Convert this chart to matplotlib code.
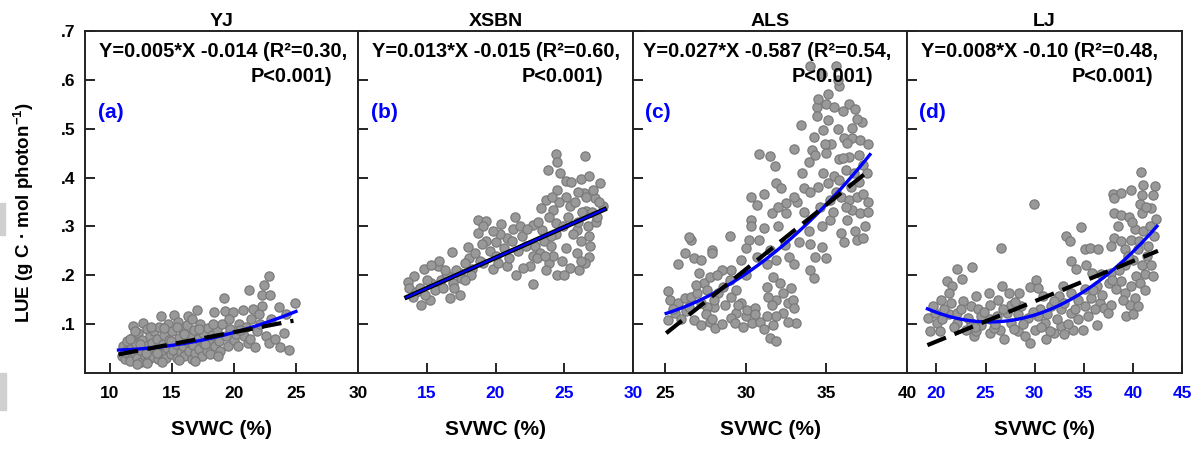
import numpy as np
import matplotlib
matplotlib.use('Agg')
from matplotlib import pyplot as plt
from matplotlib.patches import Rectangle

plt.rcParams['font.family'] = ['Liberation Sans', 'DejaVu Sans']
plt.rcParams['mathtext.fontset'] = 'custom'
plt.rcParams['mathtext.rm'] = 'Liberation Sans'
plt.rcParams['mathtext.bf'] = 'Liberation Sans:bold'

NARROW = ['Liberation Sans Narrow', 'Liberation Sans', 'DejaVu Sans']

sites = ['YJ', 'XSBN', 'ALS', 'LJ']
tags = ['(a)', '(b)', '(c)', '(d)']
eq_line1 = ['Y=0.005*X -0.014 (R²=0.30,', 'Y=0.013*X -0.015 (R²=0.60,',
            'Y=0.027*X -0.587 (R²=0.54,', 'Y=0.008*X -0.10 (R²=0.48,']
eq_line2 = ['P<0.001)'] * 4

x_limits = [(8, 30), (10, 30), (23, 40), (17, 45)]
x_ticks = [[10, 15, 20, 25, 30], [15, 20, 25, 30], [25, 30, 35, 40], [20, 25, 30, 35, 40, 45]]
y_ticks = [0.1, 0.2, 0.3, 0.4, 0.5, 0.6, 0.7]
y_ticklabels = ['.1', '.2', '.3', '.4', '.5', '.6', '.7']
tick_colors = ['black', 'blue', 'black', 'blue']

# SVWC (%), LUE pairs
yj_points = [
    (11.0, 0.035), (11.1, 0.055), (11.2, 0.028), (11.3, 0.045), (11.4, 0.065), (11.5, 0.038),
    (11.6, 0.025), (11.7, 0.050), (11.8, 0.072), (11.9, 0.097), (12.0, 0.040), (12.1, 0.060),
    (12.2, 0.030), (12.3, 0.082), (12.4, 0.048), (12.5, 0.022), (12.6, 0.068), (12.7, 0.103),
    (12.8, 0.035), (12.9, 0.055), (13.0, 0.090), (13.1, 0.027), (13.2, 0.075), (13.3, 0.045),
    (13.4, 0.062), (13.5, 0.033), (13.6, 0.085), (13.7, 0.050), (13.8, 0.070), (13.9, 0.028),
    (14.0, 0.095), (14.1, 0.117), (14.2, 0.040), (14.3, 0.060), (14.4, 0.078), (14.5, 0.030),
    (14.6, 0.052), (14.7, 0.100), (14.8, 0.068), (14.9, 0.038), (15.0, 0.085), (15.1, 0.048),
    (15.2, 0.118), (15.3, 0.060), (15.4, 0.030), (15.5, 0.105), (15.6, 0.072), (15.7, 0.042),
    (15.8, 0.090), (15.9, 0.055), (16.0, 0.035), (16.1, 0.065), (16.2, 0.098), (16.3, 0.116),
    (16.4, 0.045), (16.5, 0.078), (16.6, 0.028), (16.7, 0.058), (16.8, 0.088), (16.9, 0.040),
    (17.0, 0.129), (17.1, 0.070), (17.2, 0.050), (17.3, 0.100), (17.4, 0.035), (17.5, 0.082),
    (17.6, 0.060), (17.8, 0.045), (17.9, 0.092), (18.0, 0.068), (18.1, 0.038), (18.2, 0.078),
    (18.4, 0.125), (18.5, 0.055), (18.6, 0.088), (18.8, 0.065), (18.9, 0.045), (19.0, 0.100),
    (19.2, 0.153), (19.3, 0.127), (19.4, 0.075), (19.5, 0.055), (19.7, 0.090), (19.9, 0.124),
    (20.0, 0.068), (20.2, 0.080), (20.4, 0.100), (20.7, 0.129), (20.8, 0.075), (21.0, 0.095),
    (21.1, 0.062), (21.2, 0.170), (21.4, 0.110), (21.5, 0.132), (21.7, 0.054), (21.9, 0.085),
    (22.1, 0.100), (22.3, 0.138), (22.3, 0.160), (22.45, 0.181), (22.6, 0.075), (22.8, 0.199),
    (22.8, 0.062), (22.9, 0.160), (23.0, 0.110), (23.3, 0.069), (23.6, 0.136), (23.7, 0.054),
    (24.0, 0.082), (24.2, 0.120), (24.4, 0.047), (24.9, 0.143), (11.2, 0.042), (11.6, 0.070),
    (12.0, 0.085), (12.4, 0.060), (12.9, 0.040), (13.3, 0.095), (13.8, 0.040), (14.4, 0.092),
    (14.9, 0.065), (15.4, 0.095), (16.0, 0.080), (16.6, 0.110), (17.2, 0.090), (17.7, 0.060),
    (18.3, 0.100), (18.7, 0.035), (19.6, 0.110), (20.5, 0.088), (21.3, 0.070), (22.0, 0.120),
    (20.3, 0.055), (12.2, 0.018), (13.0, 0.020), (14.2, 0.023), (16.9, 0.025), (15.6, 0.026),
]
xsbn_points = [
    (24.4, 0.448), (26.5, 0.444), (24.5, 0.431), (23.8, 0.416), (24.7, 0.410), (25.1, 0.392),
    (26.2, 0.397), (26.8, 0.404), (27.6, 0.388), (24.5, 0.375), (23.7, 0.354), (25.1, 0.361),
    (26.4, 0.368), (27.2, 0.359), (27.8, 0.342), (23.3, 0.337), (24.2, 0.334), (25.4, 0.341),
    (26.6, 0.331), (22.7, 0.303), (23.4, 0.293), (24.4, 0.307), (25.9, 0.293), (26.8, 0.280),
    (18.7, 0.314), (19.3, 0.312), (19.1, 0.300), (20.4, 0.305), (21.4, 0.319), (21.3, 0.295),
    (18.7, 0.286), (20.0, 0.269), (20.8, 0.276), (22.7, 0.239), (23.9, 0.225), (24.5, 0.201),
    (26.1, 0.210), (26.8, 0.237), (21.5, 0.201), (22.7, 0.182), (20.8, 0.218), (19.8, 0.212),
    (16.8, 0.247), (18.0, 0.258), (15.8, 0.218), (14.8, 0.212), (14.1, 0.198), (13.6, 0.186),
    (13.7, 0.174), (14.6, 0.140), (15.2, 0.150), (16.7, 0.154), (17.4, 0.160), (15.7, 0.178),
    (16.4, 0.198), (17.4, 0.205), (18.3, 0.212), (19.1, 0.225), (18.1, 0.235), (15.9, 0.229),
    (15.3, 0.222), (14.2, 0.165), (14.5, 0.175), (14.9, 0.160), (15.3, 0.185), (15.6, 0.170),
    (16.0, 0.190), (16.2, 0.175), (16.5, 0.200), (16.9, 0.185), (17.1, 0.210), (17.5, 0.195),
    (17.8, 0.225), (18.2, 0.200), (18.5, 0.245), (18.9, 0.230), (19.3, 0.270), (19.6, 0.250),
    (20.0, 0.240), (20.3, 0.285), (20.6, 0.255), (21.0, 0.235), (21.2, 0.270), (21.6, 0.250),
    (21.9, 0.280), (22.2, 0.260), (22.5, 0.220), (22.9, 0.260), (23.1, 0.310), (23.2, 0.245),
    (23.5, 0.270), (23.7, 0.210), (23.9, 0.320), (24.0, 0.260), (24.2, 0.240), (24.4, 0.285),
    (24.6, 0.350), (24.8, 0.230), (24.9, 0.300), (25.1, 0.255), (25.3, 0.320), (25.4, 0.215),
    (25.6, 0.285), (25.8, 0.350), (25.9, 0.245), (26.0, 0.310), (26.2, 0.270), (26.3, 0.330),
    (26.5, 0.225), (26.6, 0.360), (26.7, 0.300), (26.9, 0.260), (27.0, 0.330), (27.1, 0.375),
    (27.3, 0.310), (27.5, 0.350), (15.0, 0.190), (16.3, 0.210), (17.8, 0.190), (19.0, 0.265),
    (19.8, 0.290), (21.8, 0.300), (22.3, 0.295), (23.0, 0.235), (24.1, 0.360), (25.5, 0.390),
    (26.0, 0.370), (27.4, 0.320), (26.2, 0.230), (25.0, 0.200), (24.0, 0.280), (23.6, 0.240),
    (22.0, 0.215), (20.2, 0.225), (17.0, 0.175), (14.0, 0.155),
]
als_points = [
    (34.0, 0.629), (35.6, 0.629), (34.7, 0.612), (35.8, 0.588), (35.1, 0.571), (34.4, 0.544),
    (35.0, 0.551), (35.5, 0.544), (36.4, 0.551), (36.8, 0.541), (36.0, 0.537), (33.4, 0.507),
    (34.4, 0.527), (35.1, 0.517), (34.8, 0.498), (36.6, 0.502), (37.2, 0.514), (34.2, 0.484),
    (35.3, 0.469), (34.9, 0.468), (36.1, 0.480), (36.6, 0.480), (37.1, 0.476), (37.6, 0.468),
    (33.0, 0.459), (30.8, 0.449), (31.5, 0.444), (31.8, 0.423), (34.1, 0.456), (34.3, 0.446),
    (33.9, 0.432), (35.8, 0.437), (36.4, 0.442), (37.0, 0.446), (37.3, 0.425), (36.2, 0.415),
    (35.5, 0.403), (31.9, 0.389), (32.2, 0.378), (33.6, 0.378), (34.0, 0.371), (34.5, 0.381),
    (35.1, 0.389), (35.8, 0.395), (30.3, 0.361), (30.7, 0.344), (31.1, 0.367), (32.5, 0.347),
    (33.2, 0.349), (33.6, 0.330), (32.5, 0.327), (31.6, 0.327), (30.3, 0.313), (30.3, 0.300),
    (31.1, 0.296), (32.0, 0.300), (35.2, 0.354), (35.9, 0.361), (36.4, 0.354), (36.9, 0.361),
    (37.3, 0.367), (37.6, 0.350), (36.6, 0.333), (37.1, 0.327), (36.3, 0.313), (35.2, 0.313),
    (34.7, 0.300), (35.9, 0.286), (36.9, 0.272), (37.3, 0.276), (36.1, 0.269), (29.0, 0.280),
    (30.2, 0.272), (30.8, 0.272), (30.0, 0.255), (31.5, 0.252), (32.4, 0.262), (33.3, 0.269),
    (34.0, 0.265), (34.7, 0.258), (34.3, 0.238), (35.0, 0.235), (26.6, 0.272), (26.5, 0.279),
    (26.2, 0.245), (25.8, 0.224), (26.8, 0.235), (27.2, 0.231), (27.9, 0.252), (27.9, 0.245),
    (29.1, 0.211), (28.5, 0.211), (27.1, 0.204), (27.4, 0.184), (27.8, 0.197), (29.0, 0.190),
    (29.7, 0.231), (30.7, 0.238), (31.3, 0.224), (31.9, 0.231), (32.7, 0.238), (33.0, 0.224),
    (34.0, 0.211), (34.2, 0.194), (25.2, 0.167), (25.3, 0.150), (25.8, 0.143), (26.2, 0.153),
    (26.6, 0.156), (27.0, 0.163), (25.2, 0.109), (25.6, 0.122), (26.3, 0.126), (26.8, 0.109),
    (27.2, 0.099), (27.8, 0.105), (28.1, 0.092), (28.0, 0.136), (28.7, 0.139), (29.1, 0.156),
    (29.4, 0.122), (29.1, 0.112), (29.3, 0.102), (30.0, 0.116), (30.4, 0.102), (30.9, 0.105),
    (31.3, 0.116), (31.7, 0.099), (31.3, 0.177), (31.7, 0.197), (32.1, 0.184), (31.9, 0.150),
    (31.4, 0.156), (32.3, 0.163), (32.6, 0.143), (32.9, 0.150), (33.0, 0.133), (33.1, 0.102),
    (32.3, 0.122), (31.9, 0.116), (31.5, 0.071), (31.9, 0.065), (28.3, 0.163), (28.0, 0.150),
    (27.6, 0.136), (27.2, 0.143), (28.6, 0.177), (27.6, 0.170), (29.7, 0.143), (30.1, 0.129),
    (30.6, 0.133), (36.0, 0.440), (36.7, 0.410), (37.0, 0.390), (35.6, 0.370), (36.2, 0.340),
    (37.4, 0.300), (36.8, 0.290), (35.4, 0.330), (34.6, 0.340), (33.9, 0.290), (37.5, 0.410),
    (36.3, 0.470), (35.0, 0.450), (34.8, 0.410), (33.5, 0.410), (33.0, 0.360), (32.0, 0.340),
    (36.5, 0.380), (37.6, 0.330), (35.7, 0.500), (36.9, 0.520), (34.5, 0.560), (35.7, 0.600),
    (26.0, 0.110), (26.5, 0.135), (27.5, 0.120), (28.5, 0.100), (29.8, 0.095), (30.6, 0.120),
    (31.1, 0.090), (32.6, 0.105), (32.8, 0.175), (31.6, 0.140), (27.9, 0.110), (29.5, 0.140),
    (25.5, 0.130), (26.9, 0.180), (28.2, 0.200), (30.0, 0.200), (29.4, 0.170),
]
lj_points = [
    (40.8, 0.412), (38.0, 0.367), (38.8, 0.369), (39.8, 0.374), (41.0, 0.384), (42.2, 0.382),
    (38.1, 0.358), (40.9, 0.365), (42.0, 0.365), (29.9, 0.345), (40.7, 0.345), (41.8, 0.338),
    (38.1, 0.328), (38.8, 0.324), (39.6, 0.320), (40.9, 0.328), (42.4, 0.315), (34.7, 0.298),
    (33.2, 0.281), (33.6, 0.271), (35.1, 0.253), (35.6, 0.256), (36.4, 0.253), (40.2, 0.294),
    (41.0, 0.290), (41.7, 0.300), (26.6, 0.256), (38.1, 0.277), (38.8, 0.270), (39.8, 0.273),
    (37.8, 0.260), (39.2, 0.253), (40.5, 0.253), (41.5, 0.260), (33.7, 0.229), (35.2, 0.222),
    (34.2, 0.212), (35.8, 0.205), (36.8, 0.202), (37.8, 0.205), (39.2, 0.222), (40.0, 0.232),
    (40.9, 0.222), (41.8, 0.222), (41.2, 0.202), (42.0, 0.198), (40.3, 0.198), (22.1, 0.213),
    (23.6, 0.217), (21.1, 0.188), (21.6, 0.178), (22.6, 0.193), (21.3, 0.164), (24.0, 0.157),
    (25.3, 0.163), (26.7, 0.179), (27.4, 0.163), (28.4, 0.163), (29.5, 0.176), (30.1, 0.190),
    (30.3, 0.174), (32.9, 0.178), (32.5, 0.157), (33.7, 0.164), (35.1, 0.171), (36.3, 0.178),
    (37.6, 0.185), (38.8, 0.188), (39.8, 0.178), (40.7, 0.185), (38.3, 0.171), (39.2, 0.164),
    (40.2, 0.154), (39.7, 0.140), (40.5, 0.137), (39.3, 0.116), (40.0, 0.120), (36.6, 0.144),
    (37.1, 0.133), (37.8, 0.140), (36.1, 0.130), (37.5, 0.123), (35.1, 0.137), (21.5, 0.144),
    (22.7, 0.147), (23.5, 0.137), (24.2, 0.130), (25.5, 0.140), (19.1, 0.113), (19.3, 0.086),
    (20.1, 0.103), (20.4, 0.086), (21.3, 0.120), (22.1, 0.103), (23.0, 0.089), (23.8, 0.076),
    (24.0, 0.086), (23.5, 0.103), (24.5, 0.116), (25.5, 0.110), (25.5, 0.082), (26.5, 0.089),
    (26.9, 0.069), (27.6, 0.103), (28.3, 0.086), (29.0, 0.076), (29.5, 0.062), (30.0, 0.089),
    (31.0, 0.103), (31.2, 0.069), (32.0, 0.082), (32.7, 0.096), (33.0, 0.079), (33.9, 0.089),
    (34.9, 0.089), (34.4, 0.110), (35.4, 0.116), (36.3, 0.099), (33.7, 0.123), (32.7, 0.130),
    (31.3, 0.120), (30.3, 0.116), (29.3, 0.113), (28.3, 0.120), (27.2, 0.123), (26.2, 0.116),
    (23.2, 0.113), (22.1, 0.123), (20.8, 0.130), (19.9, 0.123), (19.6, 0.137), (24.5, 0.099),
    (25.9, 0.093), (30.5, 0.130), (31.7, 0.137), (33.0, 0.144), (34.4, 0.150), (35.7, 0.154),
    (30.8, 0.157), (32.0, 0.147), (28.6, 0.137), (27.6, 0.140), (20.6, 0.110), (21.8, 0.095),
    (22.5, 0.130), (23.9, 0.095), (24.8, 0.125), (26.0, 0.100), (26.8, 0.130), (27.9, 0.090),
    (28.8, 0.100), (29.8, 0.125), (30.6, 0.095), (31.6, 0.085), (32.3, 0.110), (33.4, 0.100),
    (34.1, 0.130), (35.9, 0.170), (36.9, 0.160), (37.9, 0.190), (38.6, 0.210), (39.5, 0.240),
    (40.6, 0.270), (41.4, 0.240), (38.5, 0.300), (39.9, 0.310), (41.3, 0.340), (42.1, 0.280),
    (39.0, 0.150), (41.2, 0.170), (26.3, 0.150), (28.0, 0.145), (20.5, 0.150),
]
site_points = [yj_points, xsbn_points, als_points, lj_points]

# black dashed linear fit, read at its two ends: (x0, y0, x1, y1)
linear_ends = [(10.7, 0.038, 24.8, 0.107), (13.54, 0.155, 27.93, 0.335),
               (25.06, 0.0815, 37.7, 0.416), (19.08, 0.057, 42.55, 0.25)]
# blue curve, points read along it
curve_pts = [
    [(10.7, 0.047), (20.0, 0.083), (25.0, 0.126)],
    [(13.54, 0.155), (20.0, 0.236), (27.93, 0.335)],
    [(25.06, 0.122), (31.25, 0.233), (37.7, 0.447)],
    [(19.08, 0.132), (25.5, 0.103), (35.0, 0.168), (42.45, 0.30)],
]

W, H = 1201, 455
lefts = [85, 358, 633, 907]
rights = [358, 633, 907, 1182]
top, bottom = 31, 373
eq_x1 = [0.052, 0.052, 0.038, 0.052]
eq_x2 = [0.905, 0.893, 0.876, 0.895]
tag_x = [0.046, 0.047, 0.042, 0.042]

fig = plt.figure(figsize=(W / 100, H / 100), dpi=100)
for i in range(4):
    ax = fig.add_axes([lefts[i] / W, 1 - bottom / H, (rights[i] - lefts[i]) / W, (bottom - top) / H])
    pts = np.array(site_points[i])
    ax.scatter(pts[:, 0], pts[:, 1], s=44, facecolor='#999999', edgecolor='#7a7a7a',
               linewidth=0.9, zorder=2)

    cp = np.array(curve_pts[i])
    coef = np.polyfit(cp[:, 0], cp[:, 1], 2)
    xs = np.linspace(cp[0, 0], cp[-1, 0], 100)
    x0, y0, x1, y1 = linear_ends[i]
    if i == 1:
        ax.plot([x0, x1], [y0, y1], color='black', lw=3.4, zorder=3)
        ax.plot(xs, np.polyval(coef, xs), color='blue', lw=1.6, zorder=4)
    else:
        ax.plot(xs, np.polyval(coef, xs), color='blue', lw=2.4, zorder=3)
        ax.plot([x0, x1], [y0, y1], color='black', lw=3.0, dashes=(4.8, 2.2),
                dash_capstyle='butt', zorder=4)

    ax.set_xlim(*x_limits[i])
    ax.set_ylim(0, 0.7)
    ax.set_xticks(x_ticks[i])
    ax.set_xticklabels([str(t) for t in x_ticks[i]], color=tick_colors[i],
                       family=NARROW, fontweight='bold', fontsize=12.5)
    ax.set_yticks(y_ticks)
    if i == 0:
        ax.set_yticklabels(y_ticklabels, family=NARROW, fontweight='bold', fontsize=12.5)
    else:
        ax.set_yticklabels([])
    ax.tick_params(direction='in', length=7, width=1.2, pad=9)
    ax.tick_params(axis='y', pad=7)
    for sp in ax.spines.values():
        sp.set_linewidth(1.4)
        sp.set_color('#222222')

    ax.text(0.5, 1.028, sites[i], transform=ax.transAxes, ha='center', va='center',
            fontsize=14, fontweight='bold')
    ax.text(eq_x1[i], 0.939, eq_line1[i], transform=ax.transAxes, ha='left', va='center',
            fontsize=14.4, fontweight='bold')
    ax.text(eq_x2[i], 0.866, eq_line2[i], transform=ax.transAxes, ha='right', va='center',
            fontsize=14.4, fontweight='bold')
    ax.text(tag_x[i], 0.763, tags[i], transform=ax.transAxes, ha='left', va='center',
            fontsize=15, fontweight='bold', color='blue')
    ax.set_xlabel('SVWC (%)', family=NARROW, fontweight='bold', fontsize=15, labelpad=14)
    if i == 0:
        ax.set_ylabel(r'LUE (g C · mol photon$^{\mathbf{-1}}$)', fontsize=13.5,
                      fontweight='bold')
        ax.yaxis.set_label_coords(-0.178, 0.47)

# screenshot edge marks on the far left
fig.patches.append(Rectangle((0, 1 - 235 / H), 5 / W, 32 / H, transform=fig.transFigure,
                             color='#d0d0d0', zorder=0))
fig.patches.append(Rectangle((0, 1 - 410 / H), 6 / W, 37 / H, transform=fig.transFigure,
                             color='#d0d0d0', zorder=0))

fig.savefig('out.png', dpi=100)
